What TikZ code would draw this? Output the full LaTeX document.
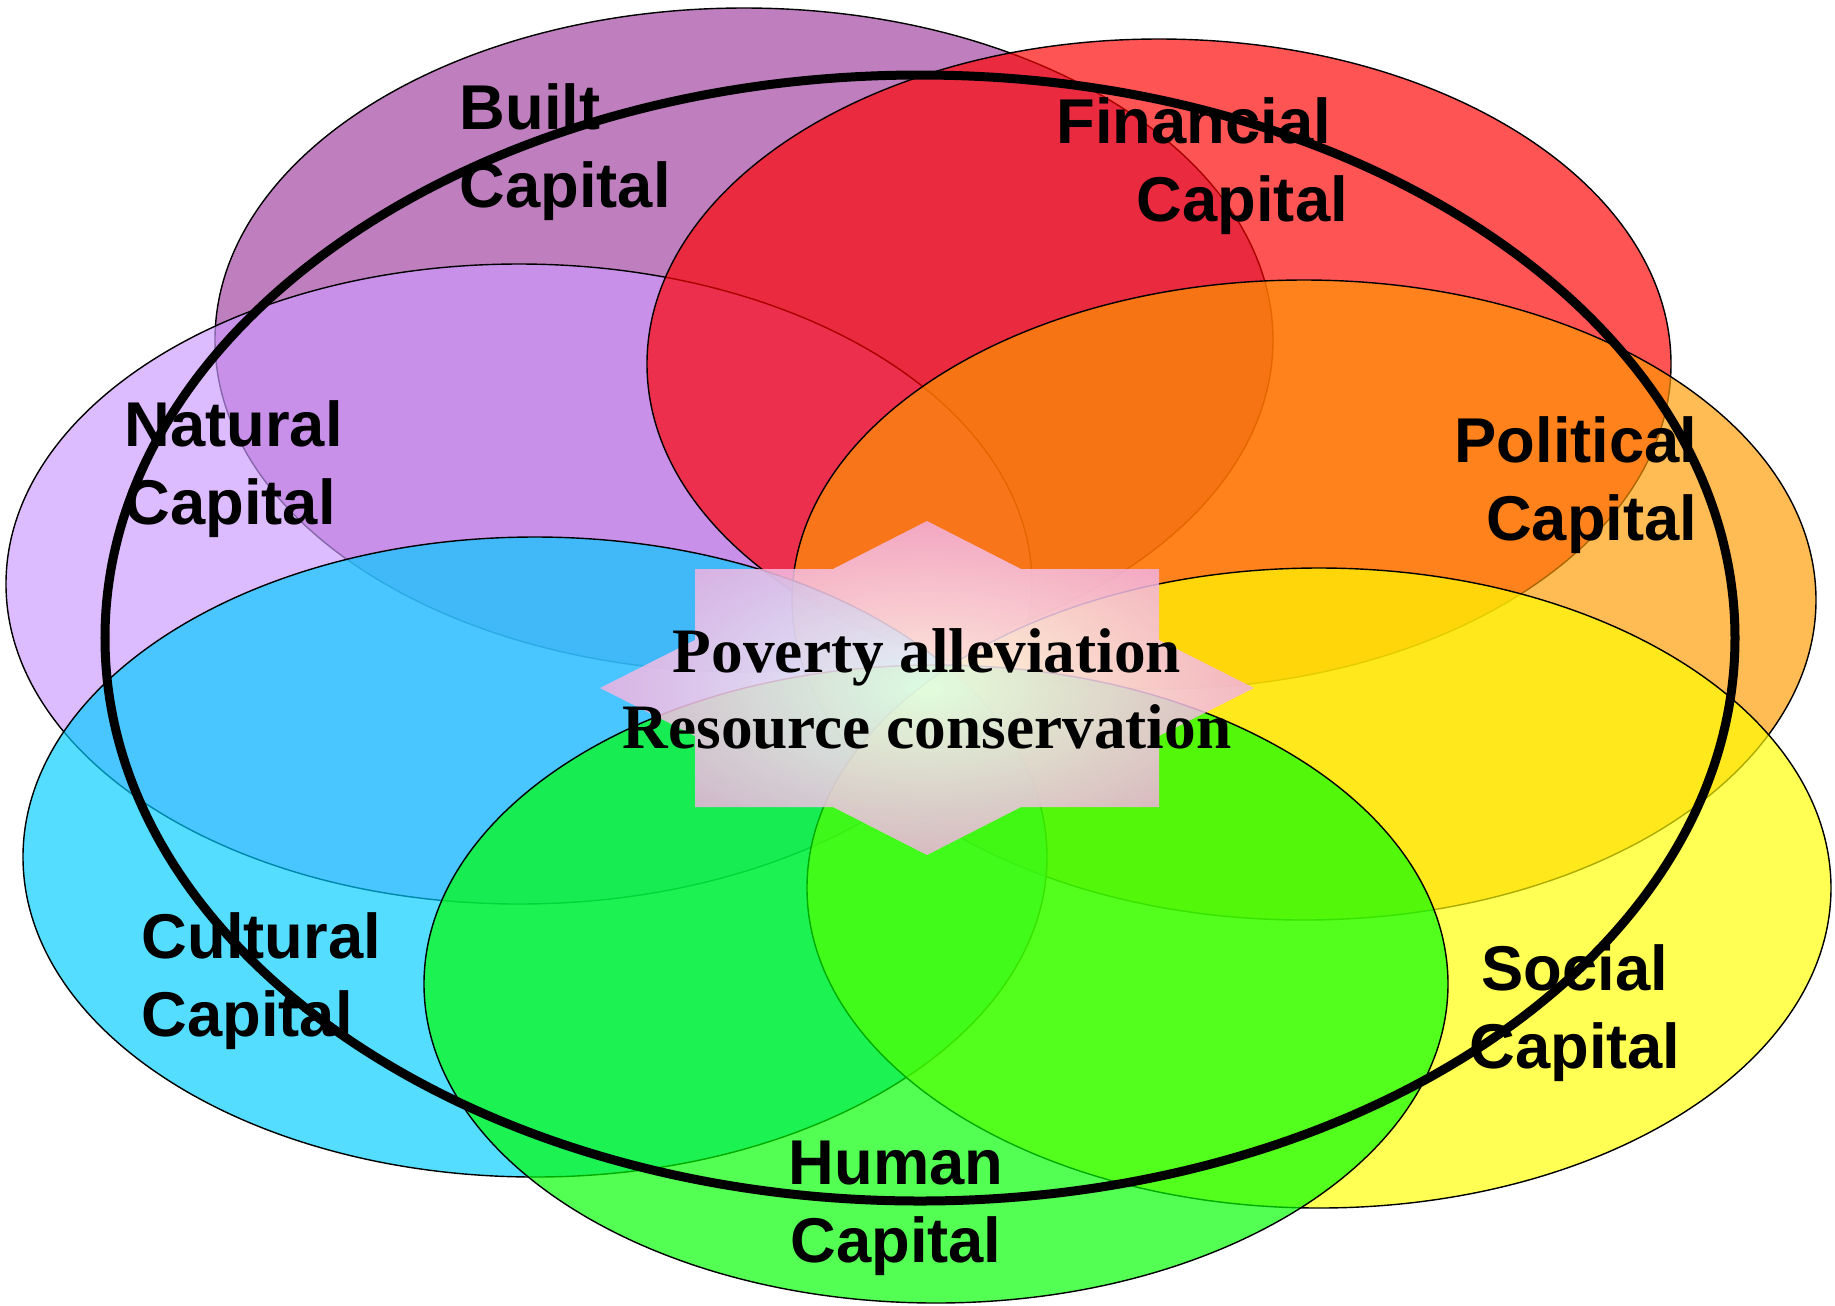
\documentclass[tikz,border=0pt]{standalone}
\usepackage{fontspec}
\usepackage{tikz}
\usetikzlibrary{calc, shapes, backgrounds}
\newfontfamily\capfont{Liberation Sans}
\newfontfamily\goalfont{Liberation Serif}

\definecolor{builtcol}{HTML}{800080}
\definecolor{naturalcol}{HTML}{CC99FF}
\definecolor{financialcol}{HTML}{FF0000}
\definecolor{politicalcol}{HTML}{FF9900}
\definecolor{culturalcol}{HTML}{00CCFF}
\definecolor{socialcol}{HTML}{FFFF00}
\definecolor{humancol}{HTML}{00FF00}
\definecolor{starpink}{RGB}{242,176,224}

\begin{document}
\begin{tikzpicture}
  [
    x = 0.01cm, y = -0.01cm,  % one unit = one pixel of the layout
    capital/.style = {draw = black, line width = 0.4pt, fill opacity = 0.67},
    every node/.style = {inner sep = 0pt,
      font = \capfont\bfseries\fontsize{18}{22}\selectfont},
    goal/.style = {font = \goalfont\bfseries\fontsize{18}{21.5}\selectfont,
      align = center}
  ]
  \useasboundingbox (0,0) rectangle (1835,1305);
  % the seven capitals, back to front
  \path[capital, fill = builtcol, fill opacity = 0.5]
    (744,340) ellipse [x radius = 529, y radius = 332];
  \path[capital, fill = naturalcol] (519,584) ellipse [x radius = 513, y radius = 320];
  \path[capital, fill = financialcol] (1159,364) ellipse [x radius = 512, y radius = 325];
  \path[capital, fill = politicalcol] (1304,600) ellipse [x radius = 512, y radius = 320];
  \path[capital, fill = culturalcol] (535,857) ellipse [x radius = 512, y radius = 320];
  \path[capital, fill = socialcol] (1319,888) ellipse [x radius = 512, y radius = 320];
  \path[capital, fill = humancol] (936,984) ellipse [x radius = 512, y radius = 319];
  % star in the middle
  \path[shading = radial, inner color = white, outer color = starpink,
        fill opacity = 0.85]
    (927,521) -- (1021,569) -- (1159,569) -- (1159,640) -- (1254,688)
    -- (1159,736) -- (1159,807) -- (1021,807) -- (927,855) -- (833,807)
    -- (695,807) -- (695,736) -- (600,688) -- (695,640) -- (695,569)
    -- (833,569) -- cycle;
  % the ring round all of them
  \draw[line width = 0.09cm] (920,638) ellipse [x radius = 815, y radius = 563];
  \node[goal] (Goal) at (927,689) {Poverty alleviation\\Resource conservation};
  % labels sit on the baseline of their last line
  \node[anchor = base west, align = left] (Built) at (459,207) {Built\\Capital};
  \node[anchor = base west, align = left] (Financial) at (1056,221)
    {Financial\\\hspace*{0.8cm}Capital};
  \node[anchor = base west, align = left] (Natural) at (124,524) {Natural\\Capital};
  \node[anchor = base east, align = right] (Political) at (1698,540) {Political\\Capital};
  \node[anchor = base west, align = left] (Cultural) at (141,1036) {Cultural\\Capital};
  \node[anchor = base, align = center] (Social) at (1575,1068) {Social\\Capital};
  \node[anchor = base, align = center] (Human) at (896,1262) {Human\\Capital};
\end{tikzpicture}
\end{document}
